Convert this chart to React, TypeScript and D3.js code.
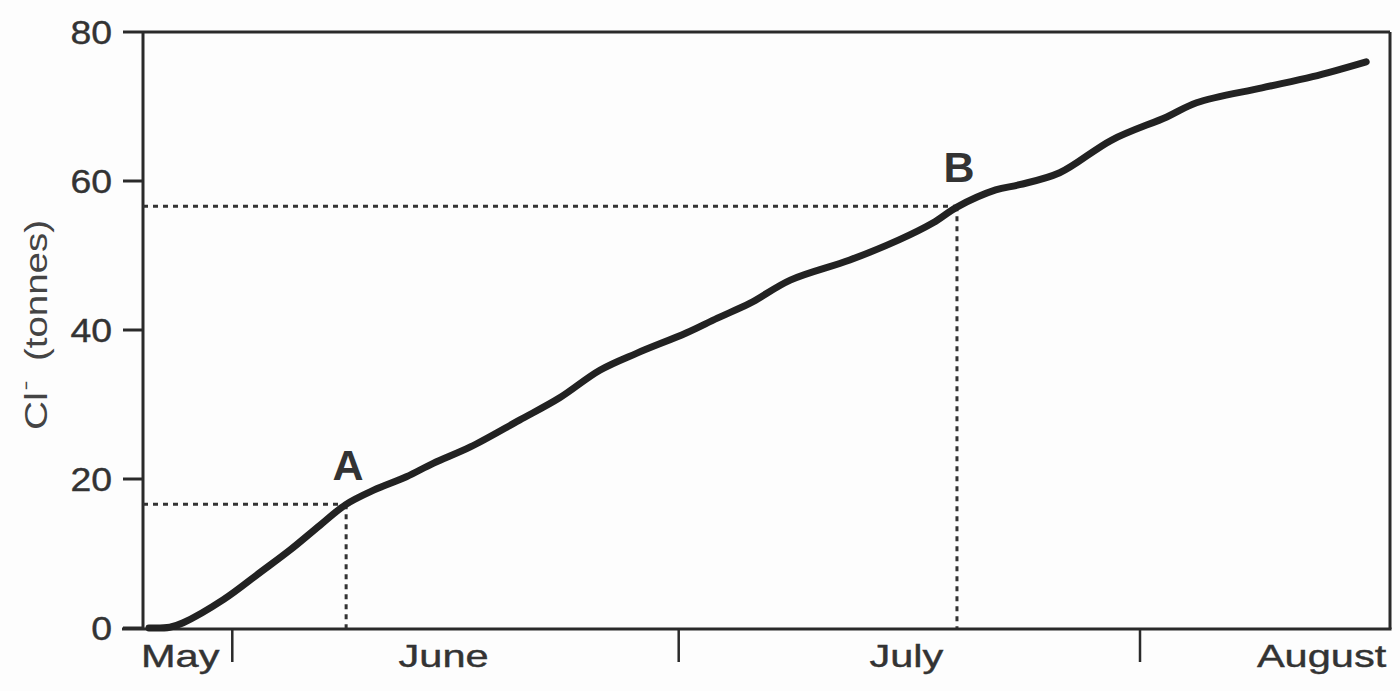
import React from "react";
import * as d3 from "d3";

// Days relative to 1 June
const curveDays = [-5.6, -4.2, -3.3, -0.6, 1.9, 3.9, 5.9, 7.65, 9.5, 11.7, 13.5, 16.0, 19.3, 22.0, 24.7, 27.2, 30.5, 32.6, 34.8, 37.5, 41.5, 44.8, 47.1, 48.7, 51.3, 52.9, 55.6, 59.1, 62.8, 64.8, 69.2, 72.6, 76.2];
const curveValues = [0, 0.1, 0.7, 3.8, 7.5, 10.5, 13.8, 16.6, 18.5, 20.3, 22.1, 24.3, 27.9, 30.9, 34.6, 36.9, 39.6, 41.6, 43.6, 46.7, 49.4, 52.1, 54.4, 56.5, 58.8, 59.5, 61.1, 65.5, 68.6, 70.5, 72.5, 74.0, 76.0];

const yTicks = [0, 20, 40, 60, 80];
const monthBoundaries = [0, 30, 61]; // 1 June, 1 July, 1 August
const monthLabels = ["May", "June", "July", "August"];
const monthLabelDays = [-3.5, 14.2, 45.3, 73.2];

const markerNames = ["A", "B"];
const markerDays = [7.65, 48.7];
const markerValues = [16.6, 56.6];

const xDomain = [-6, 77.8];
const yDomain = [0, 80];

export default function App() {
  const W = 1400;
  const H = 691;
  const left = 143;
  const right = 1390;
  const top = 32;
  const bottom = 628;

  const x = d3.scaleLinear().domain(xDomain).range([left, right]);
  const y = d3.scaleLinear().domain(yDomain).range([bottom, top]);

  const pts = curveDays.map((d, i) => [x(d), y(curveValues[i])] as [number, number]);
  const line = d3.line().curve(d3.curveCatmullRom.alpha(0.5))(pts) || "";

  const ink = "#2a2a2a";
  const font = "'Liberation Sans', Arial, Helvetica, sans-serif";
  const widthFactor = 1.34; // horizontal stretch of the month labels

  return (
    <svg
      width={W}
      height={H}
      style={{ position: "absolute", left: 0, top: 0, background: "#fff" }}
      fontFamily={font}
    >
      <rect x={0} y={0} width={W} height={H} fill="#fdfdfd" />
      {/* frame */}
      <line x1={left} y1={top} x2={right} y2={top} stroke={ink} strokeWidth={3} />
      <line x1={right} y1={top} x2={right} y2={bottom + 1} stroke={ink} strokeWidth={3} />
      <line x1={left} y1={top} x2={left} y2={bottom + 1} stroke={ink} strokeWidth={3} />
      <line x1={left - 21} y1={bottom + 1} x2={right + 1.5} y2={bottom + 1} stroke={ink} strokeWidth={3} />

      {/* y ticks */}
      {yTicks.map((t) => (
        <g key={t}>
          <line x1={left - 20} x2={left} y1={y(t)} y2={y(t)} stroke={ink} strokeWidth={3} />
          <text
            transform={`translate(${left - 31}, ${y(t)}) scale(1.1, 1)`}
            dy="0.36em"
            textAnchor="end"
            fontSize={34}
            fill="#333"
            stroke="#333"
            strokeWidth={0.4}
          >
            {t}
          </text>
        </g>
      ))}

      {/* y label */}
      <g transform="translate(47, 0) rotate(-90)" fill="#444">
        <text x={-430} y={0} fontSize={31} textLength={38} lengthAdjust="spacingAndGlyphs">
          Cl
        </text>
        <text x={-390} y={-14} fontSize={20} textLength={9} lengthAdjust="spacingAndGlyphs">
          −
        </text>
        <text x={-361} y={0} fontSize={31} textLength={141} lengthAdjust="spacingAndGlyphs">
          (tonnes)
        </text>
      </g>

      {/* x ticks */}
      {monthBoundaries.map((d) => (
        <line key={d} x1={x(d)} x2={x(d)} y1={bottom + 1} y2={bottom + 34} stroke={ink} strokeWidth={2.5} />
      ))}
      {monthLabels.map((m, i) => (
        <text
          key={m}
          transform={`translate(${x(monthLabelDays[i])}, ${bottom + 39}) scale(${widthFactor}, 1)`}
          textAnchor="middle"
          fontSize={31}
          fill="#333"
          stroke="#333"
          strokeWidth={0.4}
        >
          {m}
        </text>
      ))}

      {/* dotted guide lines */}
      {markerNames.map((n, i) => (
        <g key={n}>
          <line
            x1={left}
            x2={x(markerDays[i])}
            y1={y(markerValues[i])}
            y2={y(markerValues[i])}
            stroke="#333"
            strokeWidth={3}
            strokeDasharray="5,5"
          />
          <line
            x1={x(markerDays[i])}
            x2={x(markerDays[i])}
            y1={y(markerValues[i])}
            y2={bottom}
            stroke="#333"
            strokeWidth={3}
            strokeDasharray="5,5"
          />
          <text
            x={x(markerDays[i]) + 2}
            y={y(markerValues[i]) - 24}
            textAnchor="middle"
            fontSize={43}
            fontWeight="bold"
            fill="#333"
          >
            {n}
          </text>
        </g>
      ))}

      {/* curve */}
      <path d={line} fill="none" stroke="#222" strokeWidth={7} strokeLinecap="round" strokeLinejoin="round" />
    </svg>
  );
}
